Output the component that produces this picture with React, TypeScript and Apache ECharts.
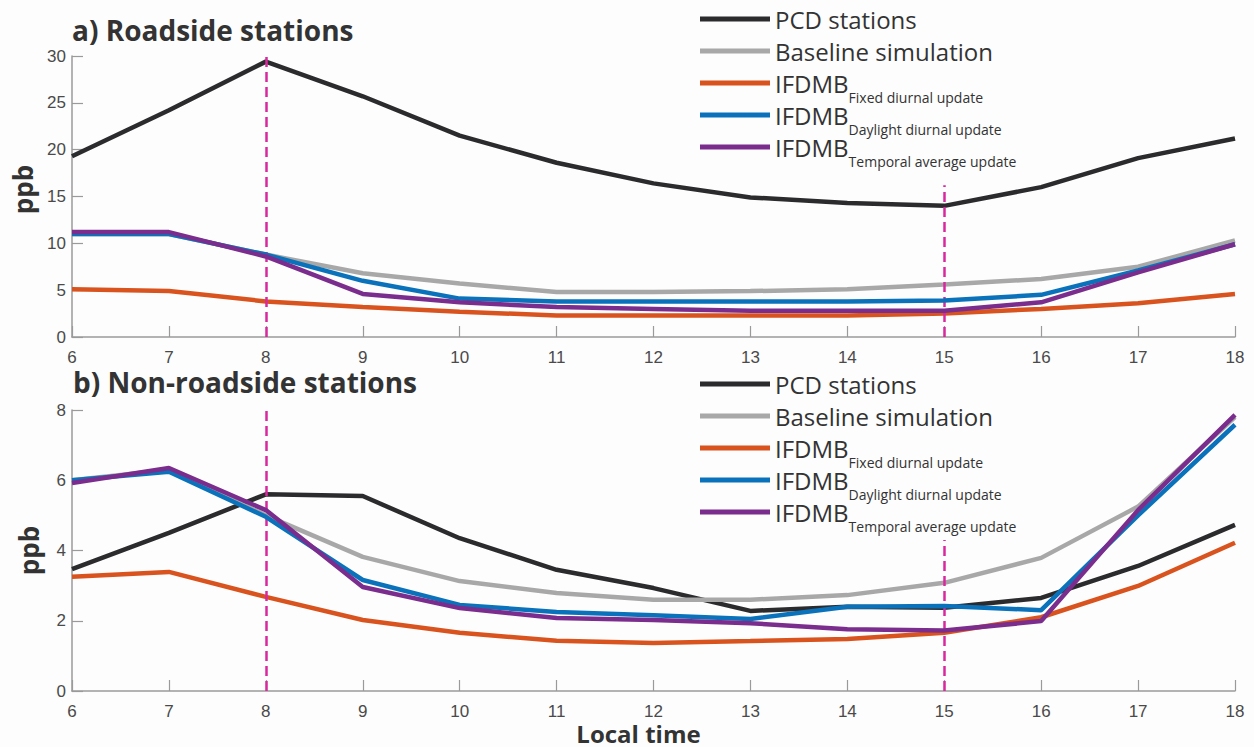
import React, { useEffect, useRef } from "react";
import * as echarts from "echarts";

const hours = [6, 7, 8, 9, 10, 11, 12, 13, 14, 15, 16, 17, 18];

// a) Roadside stations
const pcdA = [19.3, 24.2, 29.4, 25.7, 21.5, 18.6, 16.4, 14.9, 14.3, 14.0, 16.0, 19.1, 21.2];
const baseA = [11.0, 11.0, 8.8, 6.8, 5.7, 4.8, 4.8, 4.9, 5.1, 5.6, 6.2, 7.5, 10.3];
const fixedA = [5.1, 4.9, 3.8, 3.2, 2.7, 2.3, 2.3, 2.3, 2.3, 2.5, 3.0, 3.6, 4.6];
const daylightA = [11.0, 11.0, 8.8, 6.0, 4.1, 3.8, 3.8, 3.8, 3.8, 3.9, 4.5, 7.1, 9.9];
const temporalA = [11.2, 11.2, 8.6, 4.6, 3.7, 3.2, 3.0, 2.8, 2.8, 2.8, 3.7, 6.9, 9.9];

// b) Non-roadside stations
const pcdB = [3.47, 4.5, 5.6, 5.55, 4.35, 3.45, 2.93, 2.28, 2.4, 2.37, 2.65, 3.56, 4.73];
const baseB = [6.0, 6.3, 5.0, 3.82, 3.13, 2.79, 2.6, 2.6, 2.73, 3.08, 3.79, 5.25, 7.8];
const fixedB = [3.25, 3.39, 2.68, 2.02, 1.66, 1.43, 1.37, 1.42, 1.48, 1.66, 2.1, 2.99, 4.22];
const daylightB = [6.0, 6.24, 4.96, 3.16, 2.45, 2.25, 2.16, 2.05, 2.4, 2.42, 2.3, 5.0, 7.58];
const temporalB = [5.92, 6.35, 5.15, 2.96, 2.36, 2.08, 2.02, 1.93, 1.76, 1.72, 1.99, 5.15, 7.86];

// dashed reference lines (hour, top value)
const markHours = [8, 15];
const markTopsA = [30, 16.2];
const markTopsB = [8, 4.3];

const seriesNames = [
  "PCD stations",
  "Baseline simulation",
  "IFDMB Fixed diurnal update",
  "IFDMB Daylight diurnal update",
  "IFDMB Temporal average update",
];
const seriesColors = ["#2b2b2e", "#a8a8a8", "#d9531e", "#0a72ba", "#7b2d8e"];

const TXT = "#333333";
const AXIS = "#9a9a9a";
const MAIN_FONT = "Open Sans";

function legendFormatter(name: string) {
  if (name.startsWith("IFDMB ")) {
    return "{m|IFDMB}{s|" + name.slice(6) + "}";
  }
  return "{m|" + name + "}{s| }";
}

export default function App() {
  const ref = useRef<HTMLDivElement>(null);
  useEffect(() => {
    if (!ref.current) return;
    const chart = echarts.init(ref.current, undefined, { renderer: "svg" });
    const panels = [
      { data: [pcdA, baseA, fixedA, daylightA, temporalA], tops: markTopsA },
      { data: [pcdB, baseB, fixedB, daylightB, temporalB], tops: markTopsB },
    ];
    const series: any[] = [];
    panels.forEach((p, gi) => {
      p.data.forEach((vals, si) => {
        const s: any = {
          type: "line",
          name: seriesNames[si],
          xAxisIndex: gi,
          yAxisIndex: gi,
          data: hours.map((h, i) => [h, vals[i]]),
          symbol: "none",
          showSymbol: false,
          color: seriesColors[si],
          lineStyle: { width: 4.5, color: seriesColors[si] },
          z: 2 + si,
        };
        if (si === 0) {
          s.markLine = {
            silent: true,
            symbol: "none",
            label: { show: false },
            lineStyle: { color: "#d8289f", width: 2.5, type: [10, 5] },
            data: markHours.map((h, k) => [
              { coord: [h, 0] },
              { coord: [h, p.tops[k]] },
            ]),
          };
        }
        series.push(s);
      });
    });

    const axisCommon = {
      axisLine: { show: true, lineStyle: { color: AXIS, width: 1.5 } },
      axisTick: { show: true, inside: true, length: 11, lineStyle: { color: AXIS, width: 1.2 } },
      splitLine: { show: false },
    };
    const xLabel = {
      color: "#4a4a4a",
      fontSize: 17,
      fontFamily: "Liberation Sans",
      margin: 12,
    };
    const yLabel = {
      color: "#4a4a4a",
      fontSize: 17,
      fontFamily: "Liberation Sans",
      margin: 6,
    };
    const nameStyle = {
      color: TXT,
      fontSize: 26,
      fontWeight: "bold",
      fontFamily: MAIN_FONT,
    };

    const legendCommon = {
      orient: "vertical",
      left: 700,
      padding: 0,
      itemGap: -10,
      itemWidth: 70,
      itemHeight: 5,
      icon: "rect",
      selectedMode: false,
      data: seriesNames,
      formatter: legendFormatter,
      textStyle: {
        color: TXT,
        rich: {
          m: { fontSize: 24, fontFamily: MAIN_FONT, color: TXT, lineHeight: 28, verticalAlign: "middle" },
          s: {
            fontSize: 14,
            fontFamily: MAIN_FONT,
            color: TXT,
            lineHeight: 28,
            verticalAlign: "middle",
            padding: [28, 0, 0, 0],
          },
        },
      },
    };

    chart.setOption({
      animation: false,
      backgroundColor: "#fdfdfd",
      title: [
        {
          text: "a) Roadside stations",
          left: 72,
          top: 16,
          padding: 0,
          textStyle: { ...nameStyle, fontSize: 28 },
        },
        {
          text: "b) Non-roadside stations",
          left: 73,
          top: 368,
          padding: 0,
          textStyle: { ...nameStyle, fontSize: 28 },
        },
      ],
      legend: [
        { ...legendCommon, top: -2 },
        { ...legendCommon, top: 363 },
      ],
      grid: [
        { left: 72, width: 1163, top: 56, height: 281 },
        { left: 72, width: 1163, top: 410, height: 281 },
      ],
      xAxis: [
        { type: "value", gridIndex: 0, min: 6, max: 18, interval: 1, ...axisCommon, axisLabel: xLabel },
        {
          type: "value",
          gridIndex: 1,
          min: 6,
          max: 18,
          interval: 1,
          ...axisCommon,
          axisLabel: xLabel,
          name: "Local time",
          nameLocation: "middle",
          nameGap: 30,
          nameTextStyle: { ...nameStyle, fontSize: 24, lineHeight: 24, padding: [0, 30, 0, 0] },
        },
      ],
      yAxis: [
        {
          type: "value",
          gridIndex: 0,
          min: 0,
          max: 30,
          interval: 5,
          ...axisCommon,
          axisLabel: yLabel,
          name: "ppb",
          nameLocation: "middle",
          nameGap: 30,
          nameTextStyle: { ...nameStyle, padding: [0, 0, 0, 14] },
        },
        {
          type: "value",
          gridIndex: 1,
          min: 0,
          max: 8,
          interval: 2,
          ...axisCommon,
          axisLabel: yLabel,
          name: "ppb",
          nameLocation: "middle",
          nameGap: 30,
          nameTextStyle: nameStyle,
        },
      ],
      series,
    });
    return () => chart.dispose();
  }, []);
  return (
    <div
      ref={ref}
      style={{ position: "absolute", left: 0, top: 0, width: 1254, height: 747 }}
    />
  );
}
